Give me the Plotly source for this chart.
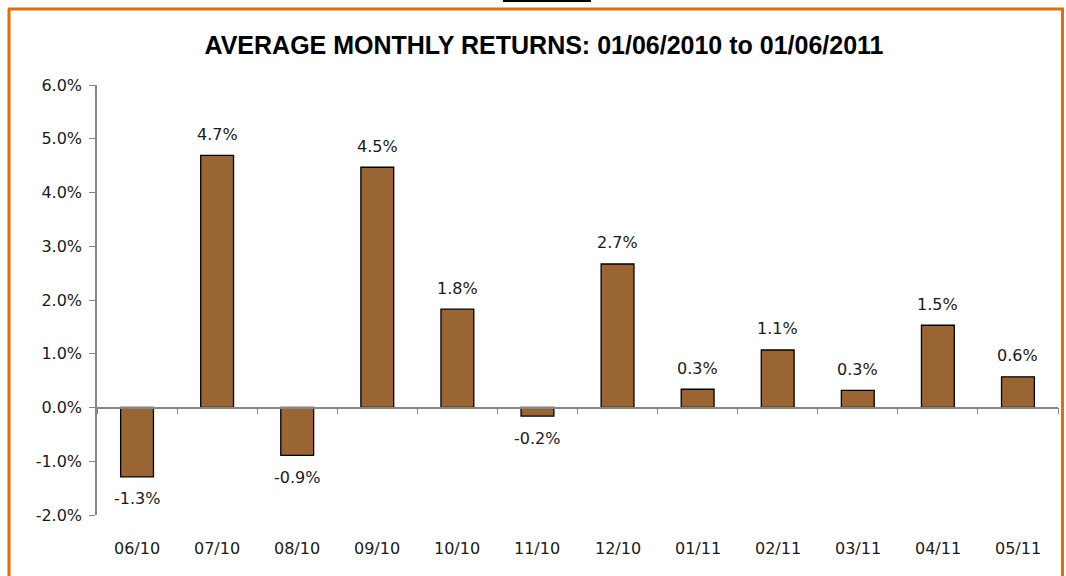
import plotly.graph_objects as go

categories = ["06/10", "07/10", "08/10", "09/10", "10/10", "11/10",
              "12/10", "01/11", "02/11", "03/11", "04/11", "05/11"]
returns = [-0.0129, 0.0469, -0.0089, 0.0447, 0.0183, -0.0016,
           0.0267, 0.0034, 0.0107, 0.0032, 0.0153, 0.0057]
labels = ["-1.3%", "4.7%", "-0.9%", "4.5%", "1.8%", "-0.2%",
          "2.7%", "0.3%", "1.1%", "0.3%", "1.5%", "0.6%"]
y_ticks = [-0.02, -0.01, 0.0, 0.01, 0.02, 0.03, 0.04, 0.05, 0.06]
y_ticklabels = ["-2.0%", "-1.0%", "0.0%", "1.0%", "2.0%", "3.0%", "4.0%", "5.0%", "6.0%"]
title_text = "AVERAGE MONTHLY RETURNS: 01/06/2010 to 01/06/2011"

W, H = 1066, 576
L, R, T, B = 97, 8, 85, 61
pw, ph = W - L - R, H - T - B
ymin, ymax = -0.02, 0.06

def px_to_xpaper(px):
    return (px - L) / pw

def px_to_ypaper(py):
    return (H - B - py) / ph

tick_font = dict(family="DejaVu Sans", size=16, color="#1a1a1a")

fig = go.Figure()
fig.add_trace(go.Bar(
    x=categories, y=returns,
    marker=dict(color="#996633", line=dict(color="#000000", width=1.3)),
    width=0.41, hoverinfo="skip",
))

# value labels above/below bars
for c, v, t in zip(categories, returns, labels):
    fig.add_annotation(x=c, y=v, xref="x", yref="y", text=t, showarrow=False,
                       font=tick_font, xanchor="center", yanchor="middle",
                       yshift=21 if v >= 0 else -22)

zero_pos = (0 - ymin) / (ymax - ymin)

fig.update_layout(
    width=W, height=H,
    margin=dict(l=L, r=R, t=T, b=B),
    paper_bgcolor="white", plot_bgcolor="white",
    showlegend=False,
    title=dict(text="<b>" + title_text + "</b>", x=544 / W,
               xanchor="center", y=1 - 45 / H, yanchor="middle",
               font=dict(family="Liberation Sans Narrow, Liberation Sans, Arial, sans-serif", size=25, color="#000000")),
    xaxis=dict(
        type="category", anchor="free", position=zero_pos,
        showline=True, linecolor="#868686", linewidth=1.5,
        ticks="outside", ticklen=6, tickcolor="#868686", tickwidth=1,
        tickson="boundaries", showticklabels=False, showgrid=False, zeroline=False,
        range=[-0.5, len(categories) - 0.5],
    ),
    yaxis=dict(
        range=[ymin, ymax], tickvals=y_ticks, ticktext=y_ticklabels,
        showline=True, linecolor="#868686", linewidth=1.5,
        ticks="outside", ticklen=6, tickcolor="#868686", tickwidth=1,
        showgrid=False, zeroline=False, tickfont=tick_font, ticklabelstandoff=4,
    ),
)

# Category labels at the bottom
for c in categories:
    fig.add_annotation(x=c, xref="x", y=px_to_ypaper(548), yref="paper",
                       text=c, showarrow=False, font=tick_font,
                       xanchor="center", yanchor="middle")

orange = "#E46C0A"
# orange frame: left, top, right
fig.add_shape(type="line", xref="paper", yref="paper",
              x0=px_to_xpaper(9), x1=px_to_xpaper(9), y0=px_to_ypaper(9), y1=px_to_ypaper(580),
              line=dict(color=orange, width=3), layer="above")
fig.add_shape(type="line", xref="paper", yref="paper",
              x0=px_to_xpaper(8), x1=px_to_xpaper(1064), y0=px_to_ypaper(9), y1=px_to_ypaper(9),
              line=dict(color=orange, width=3), layer="above")
fig.add_shape(type="line", xref="paper", yref="paper",
              x0=px_to_xpaper(1062.5), x1=px_to_xpaper(1062.5), y0=px_to_ypaper(9), y1=px_to_ypaper(580),
              line=dict(color=orange, width=3), layer="above")
# small black bar at top
fig.add_shape(type="rect", xref="paper", yref="paper",
              x0=px_to_xpaper(503), x1=px_to_xpaper(591), y0=px_to_ypaper(0), y1=px_to_ypaper(2),
              line=dict(width=0), fillcolor="#000000", layer="above")

fig.write_html("out.html", config={"displayModeBar": False},
               post_script="document.body.style.margin='0';document.body.style.overflow='hidden';")
